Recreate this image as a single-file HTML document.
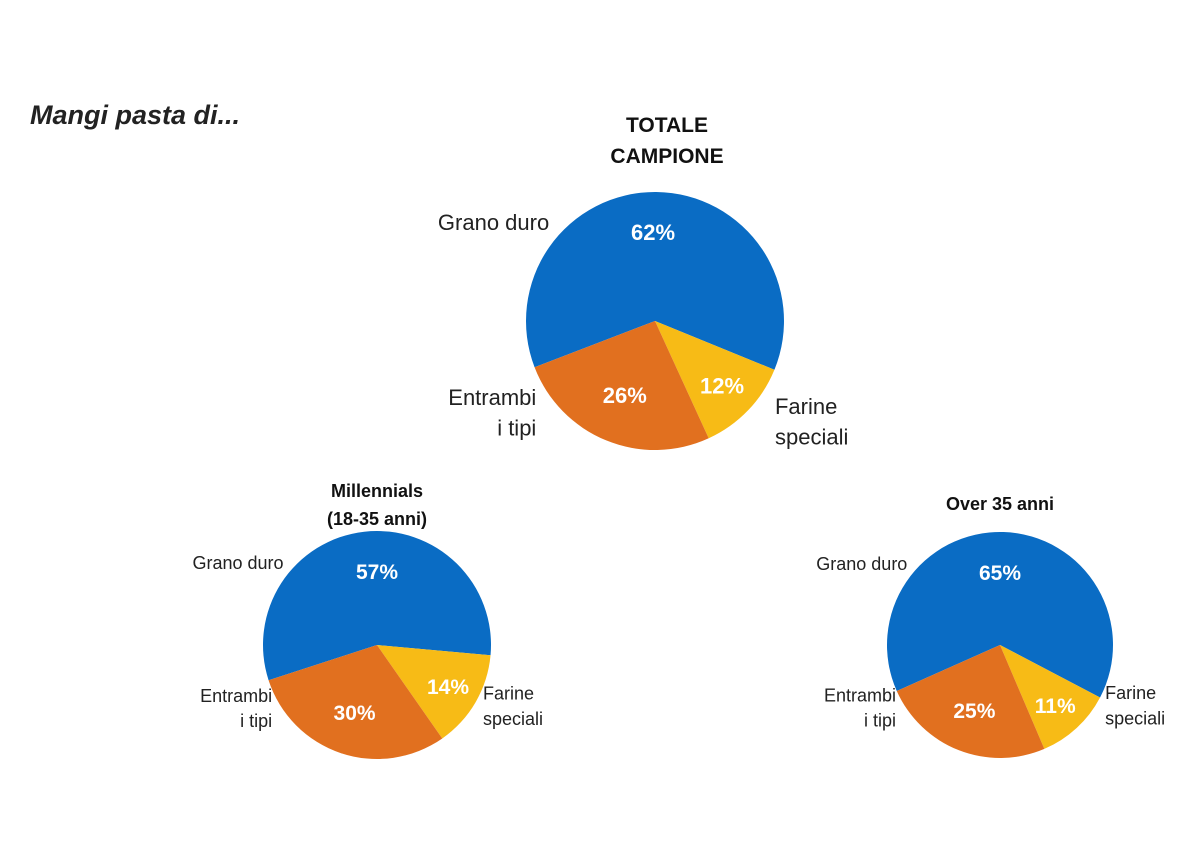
<!DOCTYPE html>
<html><head><meta charset="utf-8"><style>
body{margin:0;background:#fff;}
svg{display:block;font-family:"Liberation Sans",sans-serif;}
</style></head><body>
<svg id="chart" width="1200" height="850" viewBox="0 0 1200 850">
<text x="30" y="124" font-size="27" font-weight="bold" font-style="italic" fill="#222">Mangi pasta di...</text>
<g id="pies"></g>
</svg>
<script>
const pieTitles = [["TOTALE","CAMPIONE"],["Millennials","(18-35 anni)"],["Over 35 anni"]];
const categories = ["Grano duro","Farine speciali","Entrambi i tipi"];
const valuesTotale = [62,12,26];
const valuesMillennials = [57,14,30];
const valuesOver35 = [65,11,25];
const colors = ["#0a6cc4","#f7bb16","#e1701f"];
const allValues=[valuesTotale,valuesMillennials,valuesOver35];
const layout=[
 {cx:655,cy:321,r:129,start:159,fs:22,pfs:22,titleY:[132,163],tfs:21},
 {cx:377,cy:645,r:114,start:162,fs:18,pfs:21,titleY:[497,525],tfs:18},
 {cx:1000,cy:645,r:113,start:156,fs:18,pfs:21,titleY:[510],tfs:18}
];
const ns="http://www.w3.org/2000/svg";
const g=document.getElementById("pies");
function mk(t,a,p){const e=document.createElementNS(ns,t);for(const k in a)e.setAttribute(k,a[k]);(p||g).appendChild(e);return e;}
function pt(L,deg,rr){const a=deg*Math.PI/180;return [L.cx+rr*Math.cos(a),L.cy+rr*Math.sin(a)];}
allValues.forEach((vals,i)=>{
 const L=layout[i];
 const total=vals.reduce((a,b)=>a+b,0);
 const grp=mk("g",{});
 
 
 let ang=L.start;
 vals.forEach((v,j)=>{
  const span=v/total*360;
  const p0=pt(L,ang,L.r),p1=pt(L,ang+span,L.r);
  const path=mk("path",{d:`M${L.cx},${L.cy}L${p0[0]},${p0[1]}A${L.r},${L.r} 0 ${span>180?1:0} 1 ${p1[0]},${p1[1]}Z`,fill:colors[j]},grp);
  
  
  const mid=ang+span/2;
  let lp;
  if(j===0) lp=[L.cx-(i===0?2:0),L.cy-L.r+40];
  else lp=pt(L,mid,L.r*(j===1?0.72:0.62));
  const t=mk("text",{x:lp[0],y:lp[1]+8,"text-anchor":"middle","font-size":L.pfs,"font-weight":"bold",fill:"#fff"},grp);
  t.textContent=v+"%";
  
  
  ang+=span;
 });
 // category labels
 const lf=L.fs, lh=lf*1.4;
 const l1=mk("text",{x:L.cx-L.r*0.82,y:L.cy-L.r+38,"text-anchor":"end","font-size":lf,fill:"#222"},grp);
 l1.textContent=categories[0];
 
 
 const fx=L.cx+L.r*(i===0?0.93:0.93), fy=L.cy+L.r*(i===0?0.72:0.48);
 const l2=mk("text",{x:fx,y:fy,"font-size":lf,fill:"#222"},grp);
 l2.innerHTML=`<tspan x="${fx}">Farine</tspan><tspan x="${fx}" dy="${lh}">speciali</tspan>`;
 
 
 const ex=L.cx-L.r*(i===0?0.92:0.92), ey=L.cy+L.r*(i===0?0.65:0.5);
 const l3=mk("text",{x:ex,y:ey,"text-anchor":"end","font-size":lf,fill:"#222"},grp);
 l3.innerHTML=`<tspan x="${ex}">Entrambi</tspan><tspan x="${ex}" dy="${lh}">i tipi</tspan>`;
 
 
 pieTitles[i].forEach((s,k)=>{
  const tt=mk("text",{x:L.cx+(i===0?12:0),y:L.titleY[k],"text-anchor":"middle","font-size":L.tfs,"font-weight":"bold",fill:"#111"},grp);
  tt.textContent=s;
  
  
 });
});
</script>
</body></html>
